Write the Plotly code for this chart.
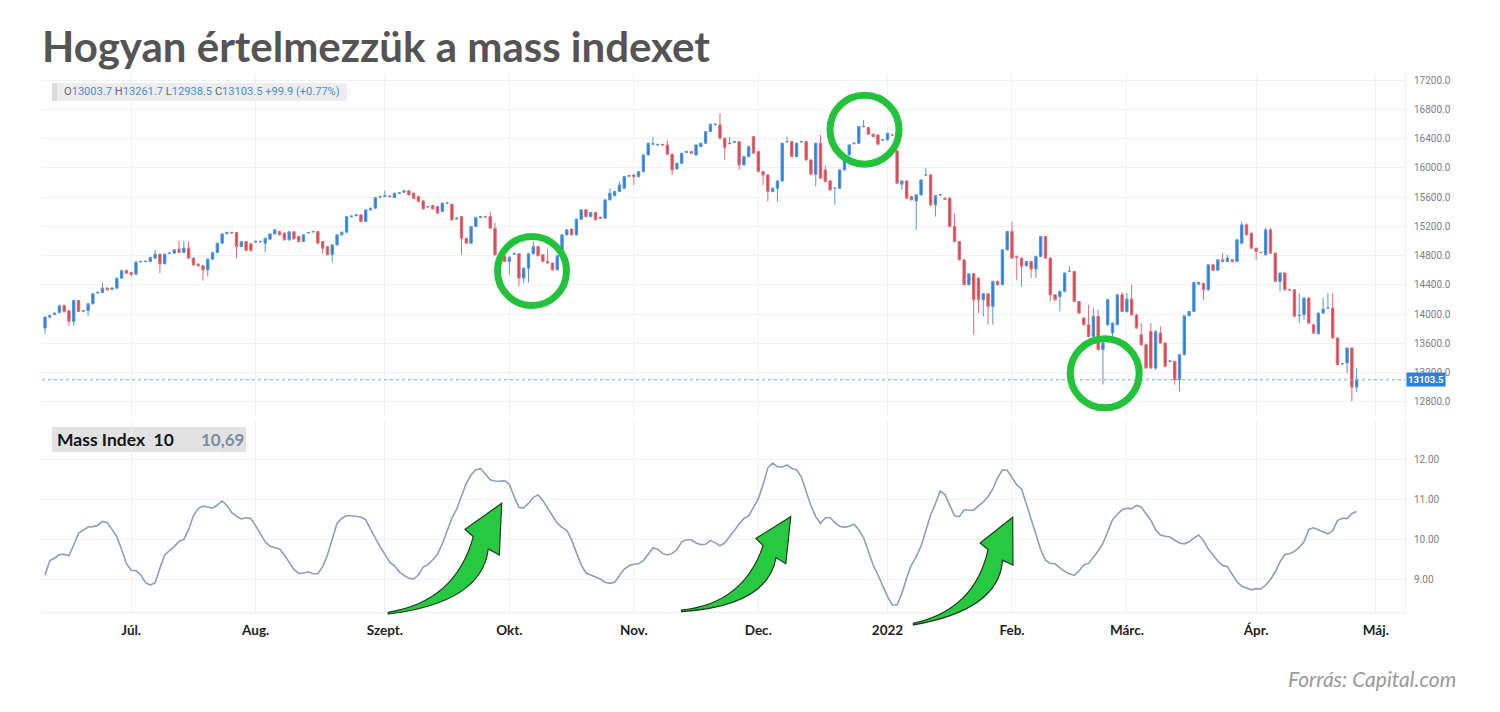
import math
import pandas as pd
import plotly.graph_objects as go

# ---------------- data ----------------
open_ = [
    13810, 13960, 13995, 14024, 14115, 14046, 13901, 14187, 14040, 14051,
    14142, 14290, 14297, 14356, 14340, 14356, 14492, 14597, 14570, 14547,
    14715, 14718, 14720, 14765, 14820, 14688, 14828, 14834, 14888, 14843,
    14902, 14765, 14683, 14661, 14606, 14752, 14843, 14970, 15100, 15116,
    15116, 14925, 14993, 14960, 14985, 14995, 14970, 15025, 15097, 15129,
    15107, 15016, 15125, 15061, 14993, 15110, 15125, 15129, 14993, 14925,
    14811, 14947, 15084, 15120, 15334, 15345, 15357, 15266, 15425, 15448,
    15600, 15607, 15615, 15594, 15653, 15665, 15685, 15653, 15607, 15548,
    15465, 15484, 15471, 15403, 15516, 15503, 15300, 15334, 15038, 14970,
    15198, 15321, 15334, 15334, 15175, 14760, 14789, 14720, 14820, 14825,
    14493, 14629, 14825, 14925, 14811, 14720, 14698, 14606, 14811, 15084,
    15162, 15084, 15298, 15426, 15334, 15389, 15325, 15312, 15562, 15620,
    15676, 15721, 15885, 15903, 15880, 15948, 16176, 16322, 16313, 16318,
    16313, 16185, 15985, 16062, 16210, 16222, 16176, 16290, 16335, 16495,
    16590, 16586, 16404, 16330, 16350, 16358, 16040, 16153, 16426, 16222,
    15948, 15903, 15676, 15721, 15821, 16355, 16358, 16153, 16355, 16358,
    16108, 15912, 16335, 15971, 15821, 15721, 15721, 15971, 16176, 16330,
    16335, 16563, 16549, 16458, 16449, 16381, 16381, 16449, 16231, 15776,
    15821, 15607, 15548, 15630, 15903, 15903, 15494, 15630, 15584, 15584,
    15198, 14993, 14743, 14402, 14552, 14493, 14197, 14279, 14106, 14447,
    14402, 14879, 15130, 14789, 14766, 14661, 14720, 14616, 14789, 15061,
    14766, 14265, 14242, 14311, 14584, 14584, 14174, 13947, 13856, 13696,
    13970, 13515, 13855, 13742, 13855, 14265, 14037, 14206, 13990, 13719,
    13582, 13764, 13264, 13742, 13605, 13355, 13355, 13104, 13446, 13978,
    14037, 14410, 14420, 14333, 14675, 14600, 14743, 14720, 14743, 14720,
    14970, 15221, 15107, 14902, 14843, 14811, 15152, 14834, 14447, 14561,
    14333, 14333, 13979, 13992, 14220, 13856, 13733, 14015, 14083, 14083,
    13674, 13323, 13333, 13537, 13003.7,
]
high = [
    13975, 14000, 14025, 14130, 14135, 14060, 14200, 14195, 14060, 14150,
    14290, 14310, 14433, 14365, 14365, 14500, 14605, 14610, 14580, 14720,
    14730, 14730, 14785, 14879, 14830, 14830, 14845, 14890, 15002, 15002,
    14990, 14775, 14695, 14670, 14760, 14850, 14980, 15105, 15130, 15125,
    15125, 15000, 15000, 14980, 15005, 15005, 15045, 15105, 15160, 15140,
    15115, 15135, 15135, 15070, 15095, 15125, 15140, 15135, 15000, 14930,
    14955, 15090, 15130, 15340, 15350, 15365, 15365, 15430, 15455, 15600,
    15620, 15685, 15625, 15660, 15670, 15700, 15690, 15660, 15615, 15555,
    15480, 15495, 15480, 15525, 15530, 15510, 15325, 15340, 15045, 15205,
    15330, 15345, 15345, 15403, 15250, 14800, 14800, 14790, 14840, 14830,
    14640, 14835, 14993, 14935, 14820, 14889, 14705, 14810, 15090, 15160,
    15170, 15305, 15435, 15440, 15395, 15400, 15330, 15570, 15721, 15690,
    15812, 15890, 15905, 15910, 15955, 16185, 16345, 16426, 16330, 16330,
    16380, 16195, 16070, 16205, 16235, 16230, 16320, 16345, 16505, 16605,
    16605, 16745, 16410, 16426, 16370, 16365, 16160, 16300, 16435, 16230,
    15955, 15910, 15730, 15830, 16345, 16426, 16365, 16345, 16370, 16365,
    16115, 16345, 16449, 16030, 15830, 15730, 15980, 16140, 16320, 16345,
    16570, 16654, 16560, 16465, 16460, 16390, 16480, 16460, 16240, 15830,
    15830, 15615, 15640, 15845, 15994, 15910, 15630, 15640, 15595, 15600,
    15380, 15000, 14750, 14560, 14560, 14500, 14290, 14290, 14460, 14460,
    14890, 15140, 15266, 14800, 14775, 14730, 14730, 14800, 15070, 15070,
    14775, 14275, 14320, 14570, 14652, 14590, 14180, 13960, 14129, 14083,
    14060, 13620, 14210, 13890, 14280, 14300, 14290, 14401, 14000, 13878,
    13600, 13878, 13780, 13833, 13615, 13370, 13365, 13455, 13985, 14045,
    14445, 14445, 14430, 14685, 14690, 14750, 14834, 14811, 14755, 15025,
    15266, 15240, 15115, 14910, 14855, 15180, 15180, 14840, 14570, 14570,
    14345, 14340, 14288, 14230, 14230, 13865, 14025, 14220, 14288, 14288,
    13680, 13335, 13545, 13545, 13261.7,
]
low = [
    13732, 13945, 13985, 14010, 14020, 13842, 13842, 14030, 14030, 13978,
    14135, 14280, 14290, 14325, 14335, 14350, 14485, 14550, 14525, 14540,
    14705, 14710, 14712, 14760, 14560, 14680, 14820, 14825, 14835, 14835,
    14755, 14660, 14650, 14460, 14515, 14745, 14835, 14960, 15090, 15100,
    14765, 14915, 14860, 14860, 14975, 14980, 14843, 15020, 15090, 15075,
    15005, 15005, 15020, 14985, 14985, 15100, 15115, 14960, 14830, 14810,
    14706, 14940, 15075, 15110, 15320, 15340, 15255, 15260, 15415, 15440,
    15590, 15600, 15595, 15590, 15645, 15660, 15620, 15575, 15530, 15430,
    15455, 15430, 15370, 15395, 15505, 15280, 15295, 14811, 14960, 14965,
    15190, 15315, 15320, 15165, 14800, 14700, 14710, 14538, 14810, 14379,
    14425, 14434, 14815, 14790, 14710, 14690, 14595, 14600, 14805, 15075,
    15075, 15075, 15290, 15325, 15325, 15280, 15300, 15305, 15555, 15610,
    15670, 15715, 15875, 15766, 15870, 15940, 16170, 16310, 16300, 16305,
    16175, 15903, 15975, 16055, 16200, 16190, 16170, 16285, 16330, 16490,
    16580, 16395, 16108, 16320, 16340, 15971, 16030, 16145, 16190, 15940,
    15766, 15539, 15665, 15539, 15815, 16345, 16145, 16145, 16345, 16100,
    15905, 15745, 15850, 15800, 15690, 15494, 15715, 15965, 16170, 16320,
    16330, 16555, 16450, 16420, 16315, 16370, 16375, 16440, 15780, 15700,
    15575, 15555, 15152, 15620, 15895, 15471, 15334, 15620, 15560, 15190,
    14985, 14735, 14395, 14395, 13719, 14015, 13970, 13856, 13856, 14390,
    14395, 14870, 14755, 14470, 14379, 14650, 14493, 14493, 14780, 14755,
    14174, 14190, 14038, 14300, 14575, 14165, 14005, 13845, 13685, 13690,
    13505, 13040, 13840, 13700, 13845, 14030, 14020, 13980, 13800, 13570,
    13255, 13250, 13240, 13595, 13280, 13340, 13036, 12945, 13440, 13970,
    14030, 14400, 14197, 14320, 14590, 14590, 14710, 14710, 14705, 14710,
    14960, 15075, 14895, 14743, 14830, 14800, 14825, 14440, 14311, 14325,
    14320, 13960, 13878, 13924, 13870, 13735, 13725, 14005, 14075, 13665,
    13300, 13310, 13196, 12809, 12938.5,
]
close = [
    13960, 13980, 14015, 14115, 14037, 13901, 14187, 14037, 14050, 14142,
    14278, 14297, 14356, 14333, 14356, 14492, 14597, 14560, 14538, 14711,
    14720, 14722, 14774, 14820, 14688, 14820, 14834, 14879, 14843, 14902,
    14765, 14674, 14661, 14606, 14752, 14843, 14970, 15097, 15116, 15110,
    14925, 14993, 14870, 14870, 14995, 14990, 15038, 15097, 15152, 15084,
    15016, 15125, 15030, 14993, 15084, 15116, 15129, 14970, 14902, 14811,
    14947, 15084, 15120, 15334, 15340, 15357, 15266, 15425, 15448, 15594,
    15607, 15621, 15607, 15653, 15660, 15685, 15630, 15584, 15539, 15439,
    15471, 15439, 15380, 15516, 15516, 15289, 15312, 15038, 14970, 15198,
    15321, 15334, 15330, 15175, 14811, 14789, 14720, 14779, 14825, 14493,
    14629, 14825, 14925, 14798, 14720, 14698, 14606, 14798, 15084, 15152,
    15084, 15298, 15426, 15334, 15389, 15289, 15312, 15562, 15653, 15676,
    15766, 15880, 15894, 15880, 15948, 16176, 16335, 16330, 16320, 16313,
    16185, 15971, 16062, 16199, 16222, 16199, 16313, 16335, 16495, 16595,
    16595, 16404, 16276, 16335, 16358, 16040, 16153, 16290, 16199, 15948,
    15903, 15676, 15721, 15821, 16335, 16358, 16153, 16335, 16358, 16108,
    15912, 16335, 15858, 15812, 15698, 15721, 15971, 16130, 16313, 16335,
    16563, 16563, 16458, 16426, 16322, 16381, 16472, 16449, 15789, 15821,
    15584, 15562, 15630, 15835, 15903, 15494, 15621, 15630, 15570, 15198,
    14993, 14743, 14402, 14552, 14197, 14197, 14279, 14106, 14447, 14401,
    14879, 15130, 14766, 14775, 14652, 14720, 14616, 14789, 15061, 14766,
    14265, 14197, 14311, 14561, 14584, 14174, 14015, 13856, 13696, 13970,
    13515, 13605, 14197, 13878, 14265, 14037, 14206, 13990, 13810, 13582,
    13264, 13264, 13764, 13605, 13287, 13360, 13104, 13446, 13978, 14037,
    14433, 14433, 14333, 14675, 14600, 14743, 14720, 14766, 14720, 15016,
    15221, 15084, 14902, 14857, 14843, 15152, 14834, 14447, 14561, 14333,
    14333, 13969, 13985, 14220, 13878, 13742, 14015, 14070, 14083, 13674,
    13310, 13323, 13537, 13003.6, 13103.5,
]
mass_index = [
    9.10, 9.46, 9.52, 9.61, 9.62, 9.58, 9.85, 10.14, 10.22, 10.30,
    10.31, 10.34, 10.44, 10.41, 10.24, 10.06, 9.74, 9.39, 9.22, 9.21,
    9.10, 8.91, 8.85, 8.91, 9.27, 9.60, 9.71, 9.81, 9.94, 9.99,
    10.24, 10.58, 10.76, 10.82, 10.80, 10.77, 10.85, 10.95, 10.84, 10.66,
    10.57, 10.50, 10.53, 10.51, 10.33, 10.12, 9.93, 9.82, 9.79, 9.75,
    9.60, 9.41, 9.24, 9.14, 9.15, 9.18, 9.13, 9.13, 9.31, 9.60,
    9.98, 10.39, 10.52, 10.58, 10.58, 10.56, 10.55, 10.48, 10.23, 10.02,
    9.81, 9.62, 9.42, 9.33, 9.18, 9.09, 9.02, 9.00, 9.10, 9.30,
    9.36, 9.48, 9.62, 9.88, 10.18, 10.52, 10.75, 11.08, 11.39, 11.60,
    11.73, 11.76, 11.63, 11.48, 11.45, 11.44, 11.46, 11.37, 11.06, 10.79,
    10.78, 10.89, 11.04, 11.10, 10.96, 10.76, 10.58, 10.40, 10.29, 10.22,
    9.98, 9.66, 9.36, 9.15, 9.10, 9.06, 9.00, 8.92, 8.89, 8.92,
    9.07, 9.25, 9.33, 9.37, 9.38, 9.46, 9.62, 9.78, 9.74, 9.64,
    9.60, 9.64, 9.73, 9.93, 9.98, 9.98, 9.90, 9.86, 9.87, 9.96,
    9.91, 9.83, 9.90, 10.05, 10.21, 10.38, 10.51, 10.58, 10.78, 11.00,
    11.36, 11.78, 11.90, 11.81, 11.80, 11.85, 11.76, 11.73, 11.55, 11.20,
    10.83, 10.56, 10.39, 10.53, 10.53, 10.41, 10.32, 10.29, 10.32, 10.37,
    10.23, 10.03, 9.68, 9.35, 9.10, 8.83, 8.56, 8.35, 8.35, 8.64,
    9.03, 9.35, 9.56, 9.82, 10.20, 10.60, 10.88, 11.20, 11.11, 10.83,
    10.58, 10.56, 10.73, 10.72, 10.72, 10.83, 10.93, 11.06, 11.25, 11.53,
    11.73, 11.72, 11.55, 11.35, 11.25, 10.89, 10.49, 10.12, 9.73, 9.47,
    9.39, 9.38, 9.28, 9.19, 9.13, 9.09, 9.20, 9.35, 9.39, 9.54,
    9.70, 9.89, 10.21, 10.48, 10.62, 10.73, 10.77, 10.76, 10.84, 10.80,
    10.63, 10.47, 10.23, 10.10, 10.07, 10.05, 9.97, 9.90, 9.88, 9.93,
    10.02, 10.10, 9.96, 9.75, 9.60, 9.45, 9.34, 9.31, 9.12, 8.93,
    8.82, 8.77, 8.73, 8.76, 8.75, 8.85, 8.99, 9.18, 9.43, 9.61,
    9.63, 9.69, 9.79, 9.93, 10.24, 10.28, 10.23, 10.17, 10.13, 10.21,
    10.46, 10.52, 10.51, 10.64, 10.69,
]
mass_period = 10
first_day = "2021-06-10"
month_keys = ["2021-07", "2021-08", "2021-09", "2021-10", "2021-11", "2021-12",
              "2022-01", "2022-02", "2022-03", "2022-04", "2022-05"]
month_labels = ["Júl.", "Aug.", "Szept.", "Okt.", "Nov.", "Dec.",
                "2022", "Feb.", "Márc.", "Ápr.", "Máj."]
price_ticks = [12800, 13200, 13600, 14000, 14400, 14800, 15200, 15600, 16000, 16400, 16800, 17200]
mi_ticks = [9, 10, 11, 12]

# ---------------- helpers ----------------
W, H = 1500, 712
def px(x): return x / W
def py(y): return 1 - y / H

# trading sessions (CFD: Sunday–Friday)
days = pd.date_range(first_day, "2022-05-15", freq="D")
days = days[days.dayofweek != 5]
ym = list(days.strftime("%Y-%m"))
tickvals = [ym.index(k) for k in month_keys]
n = len(close)
xi = list(range(n))

BLUE = "#2a7dd6"
RED = "#d9424f"
GREEN = "#22c33b"
MI_COL = "#8d9fbd"
GRID = "#f0f2f5"

fig = go.Figure()
fig.add_trace(go.Candlestick(
    x=xi, open=open_, high=high, low=low, close=close,
    increasing=dict(line=dict(color="#5597dc", width=1), fillcolor=BLUE),
    decreasing=dict(line=dict(color="#e06b75", width=1), fillcolor=RED),
    whiskerwidth=0, showlegend=False, hoverinfo="skip",
    xaxis="x", yaxis="y"))
fig.add_trace(go.Scatter(
    x=xi, y=mass_index, mode="lines", line=dict(color=MI_COL, width=1.6),
    showlegend=False, hoverinfo="skip", xaxis="x2", yaxis="y2"))

xr = [-0.63, 284.1]
xdom = [px(42), px(1405)]
fig.update_layout(
    width=W, height=H, margin=dict(l=0, r=0, t=0, b=0),
    paper_bgcolor="white", plot_bgcolor="white", hovermode=False,
    xaxis=dict(domain=xdom, range=xr, anchor="y", tickvals=tickvals, showticklabels=False,
               showgrid=True, gridcolor=GRID, zeroline=False, rangeslider=dict(visible=False),
               showline=False, ticks=""),
    yaxis=dict(domain=[py(416), py(74)], range=[12608.6, 17282], side="right", anchor="x",
               tickvals=price_ticks, tickformat=".1f", showgrid=True, gridcolor=GRID,
               zeroline=False, ticks="outside", ticklen=6, tickcolor="rgba(0,0,0,0)",
               tickfont=dict(family="Roboto", size=10, color="#808080"),
               showline=True, linecolor="#eceef2"),
    xaxis2=dict(domain=xdom, range=xr, anchor="y2", tickvals=tickvals,
                ticktext=[f"<b>{t}</b>" for t in month_labels],
                tickfont=dict(family="Lato", size=13.5, color="#1e1e1e"),
                showgrid=True, gridcolor=GRID, zeroline=False, ticks="outside", ticklen=6,
                tickcolor="rgba(0,0,0,0)", showline=True, linecolor="#eceef2"),
    yaxis2=dict(domain=[py(612), py(420)], range=[8.175, 12.975], side="right", anchor="x2",
                tickvals=mi_ticks, tickformat=".2f", showgrid=True, gridcolor=GRID,
                zeroline=False, ticks="outside", ticklen=6, tickcolor="rgba(0,0,0,0)",
                tickfont=dict(family="Roboto", size=10, color="#808080"),
                showline=True, linecolor="#eceef2"),
)

shapes = []
annotations = []

# current price dotted line + label (the label sits on the price scale, as in the source)
last_c = close[-1]
shapes.append(dict(type="line", xref="paper", yref="y", x0=px(42), x1=px(1405),
                   y0=last_c, y1=last_c, line=dict(color="#62b3c6", width=1, dash="dot")))
annotations.append(dict(xref="paper", yref="y", x=px(1406), y=last_c, xanchor="left",
                        yanchor="middle", text=f"<b>{last_c:.1f}</b>", showarrow=False,
                        bgcolor="#2b7fe0", borderpad=1,
                        font=dict(family="Roboto", size=9.5, color="white")))

# OHLC legend box
shapes.append(dict(type="rect", xref="paper", yref="paper", x0=px(52), x1=px(347),
                   y0=py(101), y1=py(83), fillcolor="#ededed", line=dict(width=0), layer="below"))
shapes.append(dict(type="rect", xref="paper", yref="paper", x0=px(52), x1=px(57),
                   y0=py(101), y1=py(83), fillcolor="#dcdcdc", line=dict(width=0), layer="below"))
prev_c = close[-2]
chg = last_c - prev_c
pct = chg / prev_c * 100
lab = "color:#666666"
num = "color:#4a8fd6"
ohlc_txt = (f"<span style='{lab}'>O</span><span style='{num}'>{open_[-1]:.1f}</span> "
            f"<span style='{lab}'>H</span><span style='{num}'>{high[-1]:.1f}</span> "
            f"<span style='{lab}'>L</span><span style='{num}'>{low[-1]:.1f}</span> "
            f"<span style='{lab}'>C</span><span style='{num}'>{last_c:.1f}</span> "
            f"<span style='{num}'>{chg:+.1f} ({pct:+.2f}%)</span>")
annotations.append(dict(xref="paper", yref="paper", x=px(62), y=py(92), xanchor="left",
                        yanchor="middle", text=ohlc_txt, showarrow=False,
                        font=dict(family="Roboto", size=11.1)))

# Mass index label box
shapes.append(dict(type="rect", xref="paper", yref="paper", x0=px(52), x1=px(246),
                   y0=py(452), y1=py(427), fillcolor="#e2e2e2", line=dict(width=0), layer="below"))
annotations.append(dict(xref="paper", yref="paper", x=px(55), y=py(440), xanchor="left",
                        yanchor="middle", text=f"<b>Mass Index  {mass_period}</b>", showarrow=False,
                        font=dict(family="Lato", size=17.5, color="#141414")))
annotations.append(dict(xref="paper", yref="paper", x=px(199), y=py(440), xanchor="left",
                        yanchor="middle", text=f"<b>{mass_index[-1]:.2f}</b>".replace(".", ","),
                        showarrow=False, font=dict(family="Lato", size=17, color="#7d8ba2")))

# title and source
annotations.append(dict(xref="paper", yref="paper", x=px(40), y=py(46), xanchor="left",
                        yanchor="middle", text="<b>Hogyan értelmezzük a mass indexet</b>",
                        showarrow=False, font=dict(family="Lato", size=42, color="#545454")))
annotations.append(dict(xref="paper", yref="paper", x=px(1458), y=py(678), xanchor="right",
                        yanchor="middle", text="<i>Forrás: Capital.com</i>", showarrow=False,
                        font=dict(family="Lato", size=21, color="#9a9a9a")))

# green highlight circles
for cx, cy in [(532, 271), (864.5, 129.7), (1104.7, 373.3)]:
    r = 34.5
    shapes.append(dict(type="circle", xref="paper", yref="paper", x0=px(cx - r), x1=px(cx + r),
                       y0=py(cy + r), y1=py(cy - r), line=dict(color=GREEN, width=7)))

# curved green arrows
T0 = (388.3, 612.3)
P0 = (501.7, 503.3)
TPL = dict(T=(388.3, 612.3), C1=(455.5, 601.5), U=(473.3, 536.7), HL=(465.0, 529.3),
           TIP=(501.7, 503.3), HR=(499.3, 555.0), LJ=(488.3, 549.0), C2=(481.7, 602.8),
           T2=(388.3, 614.0))

def arrow_path(tail, tip):
    v0 = (P0[0] - T0[0], P0[1] - T0[1])
    v1 = (tip[0] - tail[0], tip[1] - tail[1])
    s = math.hypot(*v1) / math.hypot(*v0)
    th = math.atan2(v1[1], v1[0]) - math.atan2(v0[1], v0[0])
    def m(key):
        p = TPL[key]
        dx, dy = p[0] - T0[0], p[1] - T0[1]
        x = tail[0] + s * (dx * math.cos(th) - dy * math.sin(th))
        y = tail[1] + s * (dx * math.sin(th) + dy * math.cos(th))
        return f"{px(x):.5f},{py(y):.5f}"
    return (f"M {m('T')} Q {m('C1')} {m('U')} L {m('HL')} L {m('TIP')} L {m('HR')} "
            f"L {m('LJ')} Q {m('C2')} {m('T2')} Z")

for tail, tip in [((388.3, 612.3), (501.7, 503.3)),
                  ((681.7, 610.0), (790.7, 516.7)),
                  ((913.3, 623.3), (1012.7, 517.3))]:
    shapes.append(dict(type="path", xref="paper", yref="paper", path=arrow_path(tail, tip),
                       fillcolor="#26c93f", line=dict(color="#1d3b22", width=1.2)))

fig.update_layout(shapes=shapes, annotations=annotations)
fig.write_html("out.html", config={"displayModeBar": False})
